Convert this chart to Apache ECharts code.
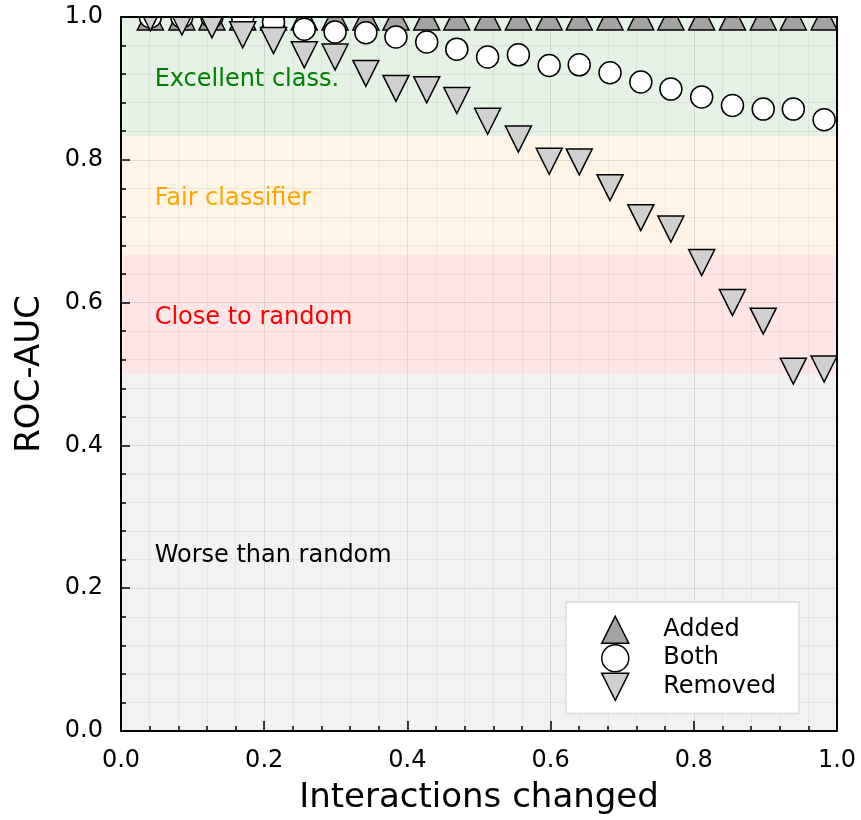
<!DOCTYPE html>
<html>
<head>
<meta charset="utf-8">
<script src="https://cdn.jsdelivr.net/npm/echarts@6/dist/echarts.min.js"></script>
<style>
  html, body { margin: 0; padding: 0; background: #ffffff; }
  #chart { width: 861px; height: 820px; }
</style>
</head>
<body>
<div id="chart"></div>
<script>
// Fraction of interactions changed (x) and the resulting ROC-AUC per perturbation type
const interactionsChanged = [0.041, 0.085, 0.127, 0.170, 0.213, 0.256, 0.299, 0.342, 0.384, 0.427, 0.469, 0.512,
                             0.555, 0.598, 0.640, 0.683, 0.726, 0.768, 0.811, 0.854, 0.897, 0.939, 0.982];
const aucAdded   = [1.0, 1.0, 1.0, 1.0, 1.0, 1.0, 1.0, 1.0, 1.0, 1.0, 1.0, 1.0,
                    1.0, 1.0, 1.0, 1.0, 1.0, 1.0, 1.0, 1.0, 1.0, 1.0, 1.0];
const aucBoth    = [1.0, 1.0, 1.0, 0.999, 0.993, 0.983, 0.979, 0.978, 0.972, 0.965, 0.955, 0.944,
                    0.947, 0.932, 0.933, 0.922, 0.909, 0.899, 0.888, 0.876, 0.871, 0.871, 0.856];
const aucRemoved = [0.999, 0.993, 0.989, 0.975, 0.967, 0.947, 0.944, 0.921, 0.900, 0.898, 0.883, 0.854,
                    0.829, 0.798, 0.797, 0.761, 0.719, 0.703, 0.656, 0.600, 0.574, 0.504, 0.507];

// Classifier quality bands (bottom to top)
const bandEdges = [0, 0.5, 0.6667, 0.8333, 1.0];
const bandNames = ['Worse than random', 'Close to random', 'Fair classifier', 'Excellent class.'];
const bandLabelX = 0.047;

const tickLabels = ['0.0', '0.2', '0.4', '0.6', '0.8', '1.0'];

// Styles
const FONT = '"DejaVu Sans", "Liberation Sans", sans-serif';
const bandFill = ['#f2f2f2', '#ffe6e6', '#fff5e6', '#e6f2e6'];
const bandText = ['#000000', '#ff0000', '#ffa500', '#008000'];
const addedFill = '#a3a3a3';
const bothFill = '#ffffff';
const removedFill = '#d0d0d0';
const UP_TRIANGLE = 'path://M1,0L2,2L0,2Z';
const DOWN_TRIANGLE = 'path://M0,0L2,0L1,2Z';
const GRID = { left: 121, right: 24, top: 17, bottom: 87 };
const W = 861, H = 820;

const pts = ys => interactionsChanged.map((x, i) => [x, ys[i]]);
const bandData = bandNames.map((n, i) => [bandEdges[i], bandEdges[i + 1], i]);

const chart = echarts.init(document.getElementById('chart'), null, { renderer: 'canvas' });

const valueAxisCommon = {
  type: 'value', min: 0, max: 1, interval: 0.2
};

chart.setOption({
  animation: false,
  backgroundColor: '#ffffff',
  textStyle: { fontFamily: FONT },
  grid: GRID,
  xAxis: [
    Object.assign({}, valueAxisCommon, {
      position: 'bottom',
      name: 'Interactions changed',
      nameLocation: 'middle',
      nameGap: 50,
      nameTextStyle: { fontSize: 34, color: '#000', fontFamily: FONT },
      axisLine: { show: true, onZero: false, lineStyle: { color: '#000', width: 2 } },
      axisTick: { show: true, inside: true, length: 10, lineStyle: { color: '#000', width: 1.5 } },
      minorTick: { show: true, splitNumber: 5, length: 5, lineStyle: { color: '#000', width: 1.5 } },
      axisLabel: { fontSize: 24, color: '#000', fontFamily: FONT, margin: 18,
                   formatter: v => tickLabels[Math.round(v / 0.2)] },
      splitLine: { show: true, lineStyle: { color: 'rgba(0,0,0,0.1)', width: 1 } },
      minorSplitLine: { show: true, lineStyle: { color: 'rgba(0,0,0,0.05)', width: 1 } }
    }),
    Object.assign({}, valueAxisCommon, {
      position: 'top', z: 60,
      axisLine: { show: true, onZero: false, lineStyle: { color: '#000', width: 2 } },
      axisTick: { show: false }, axisLabel: { show: false }, splitLine: { show: false }
    })
  ],
  yAxis: [
    Object.assign({}, valueAxisCommon, {
      position: 'left',
      name: 'ROC-AUC',
      nameLocation: 'middle',
      nameGap: 74,
      nameTextStyle: { fontSize: 34, color: '#000', fontFamily: FONT },
      axisLine: { show: true, onZero: false, lineStyle: { color: '#000', width: 2 } },
      axisTick: { show: true, inside: true, length: 9, lineStyle: { color: '#000', width: 1.5 } },
      minorTick: { show: true, splitNumber: 5, length: 5, lineStyle: { color: '#000', width: 1.5 } },
      axisLabel: { fontSize: 24, color: '#000', fontFamily: FONT, margin: 18,
                   formatter: v => tickLabels[Math.round(v / 0.2)] },
      splitLine: { show: true, lineStyle: { color: 'rgba(0,0,0,0.1)', width: 1 } },
      minorSplitLine: { show: true, lineStyle: { color: 'rgba(0,0,0,0.05)', width: 1 } }
    }),
    Object.assign({}, valueAxisCommon, {
      position: 'right', z: 60,
      axisLine: { show: true, onZero: false, lineStyle: { color: '#000', width: 2 } },
      axisTick: { show: false }, axisLabel: { show: false }, splitLine: { show: false }
    })
  ],
  legend: {
    orient: 'vertical',
    left: 566, top: 602,
    padding: [13.5, 23, 12.5, 35],
    itemWidth: 86, itemHeight: 27, itemGap: 0,
    symbolKeepAspect: true,
    backgroundColor: '#ffffff',
    borderColor: '#dcdcdc', borderWidth: 1.5,
    selectedMode: false,
    textStyle: { fontSize: 24, color: '#000', fontFamily: FONT },
    data: [
      { name: 'Added', icon: UP_TRIANGLE, itemStyle: { color: addedFill, borderColor: '#000', borderWidth: 1.5 } },
      { name: 'Both', icon: 'circle', itemStyle: { color: bothFill, borderColor: '#000', borderWidth: 1.5 } },
      { name: 'Removed', icon: DOWN_TRIANGLE,
        itemStyle: { color: removedFill, borderColor: '#000', borderWidth: 1.5 } }
    ]
  },
  graphic: [
    // masks keep markers that sit on the frame from spilling outside the plot
    { type: 'rect', silent: true, z: 50, shape: { x: GRID.left, y: 0, width: W - GRID.left, height: GRID.top }, style: { fill: '#ffffff' } },
    { type: 'rect', silent: true, z: 50, shape: { x: W - GRID.right, y: 0, width: GRID.right, height: H - GRID.bottom }, style: { fill: '#ffffff' } }
  ],
  series: [
    {
      name: 'bands', type: 'custom', z: -1, silent: true,
      data: bandData,
      renderItem: (params, api) => {
        const i = api.value(2);
        const p0 = api.coord([0, api.value(1)]);
        const p1 = api.coord([1, api.value(0)]);
        return { type: 'rect', shape: { x: p0[0], y: p0[1], width: p1[0] - p0[0], height: p1[1] - p0[1] },
                 style: { fill: bandFill[i] } };
      }
    },
    {
      name: 'bandLabels', type: 'custom', z: 1, silent: true,
      data: bandData,
      renderItem: (params, api) => {
        const i = api.value(2);
        const p = api.coord([bandLabelX, (api.value(0) + api.value(1)) / 2]);
        return { type: 'text', x: p[0], y: p[1] + 3,
                 style: { text: bandNames[i], fill: bandText[i], font: '24px ' + FONT,
                          align: 'left', verticalAlign: 'middle' } };
      }
    },
    {
      name: 'Added', type: 'scatter', clip: false, z: 3,
      symbol: 'triangle', symbolSize: 26,
      itemStyle: { color: addedFill, borderColor: '#000', borderWidth: 1.5, opacity: 1 },
      data: pts(aucAdded)
    },
    {
      name: 'Both', type: 'scatter', clip: false, z: 4,
      symbol: 'circle', symbolSize: 22,
      itemStyle: { color: bothFill, borderColor: '#000', borderWidth: 1.5, opacity: 1 },
      data: pts(aucBoth)
    },
    {
      name: 'Removed', type: 'scatter', clip: false, z: 5,
      symbol: 'triangle', symbolSize: 26, symbolRotate: 180,
      itemStyle: { color: removedFill, borderColor: '#000', borderWidth: 1.5, opacity: 1 },
      data: pts(aucRemoved)
    }
  ]
});
</script>
</body>
</html>
